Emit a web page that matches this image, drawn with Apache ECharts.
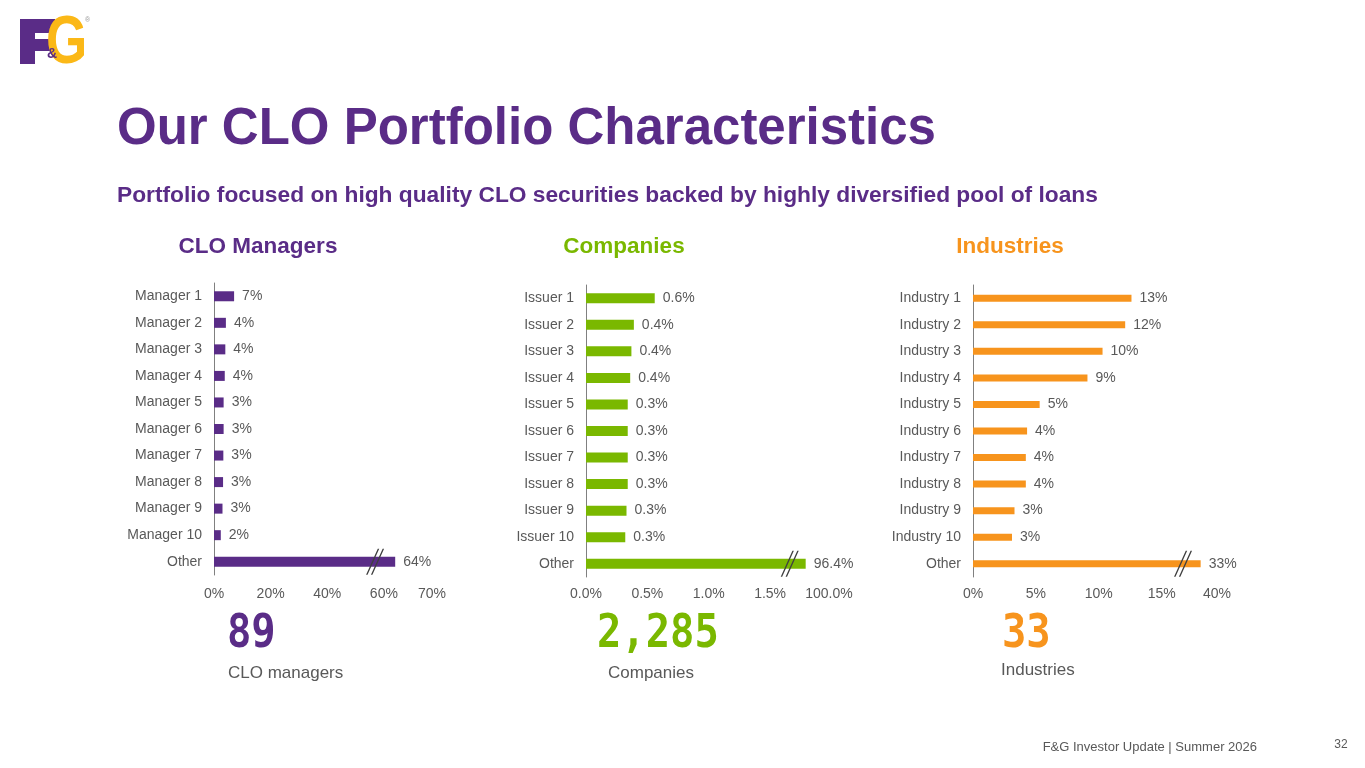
<!DOCTYPE html>
<html><head><meta charset="utf-8">
<script src="https://cdn.jsdelivr.net/npm/echarts@6/dist/echarts.min.js"></script>
<style>html,body{margin:0;padding:0;background:#fff;}#c{width:1365px;height:768px;}</style>
</head><body><div id="c"></div>
<script>
// ---------- data ----------
const managerNames = ['Manager 1','Manager 2','Manager 3','Manager 4','Manager 5','Manager 6','Manager 7','Manager 8','Manager 9','Manager 10','Other'];
const managerShares = [7.1, 4.2, 4.0, 3.8, 3.4, 3.4, 3.3, 3.2, 3.0, 2.4, 64];
const managerTickValues = [0, 20, 40, 60, 77];
const managerTickLabels = ['0%','20%','40%','60%','70%'];

const issuerNames = ['Issuer 1','Issuer 2','Issuer 3','Issuer 4','Issuer 5','Issuer 6','Issuer 7','Issuer 8','Issuer 9','Issuer 10','Other'];
const issuerShares = [0.56, 0.39, 0.37, 0.36, 0.34, 0.34, 0.34, 0.34, 0.33, 0.32, 96.4];
const issuerTickValues = [0, 0.5, 1.0, 1.5, 1.98];
const issuerTickLabels = ['0.0%','0.5%','1.0%','1.5%','100.0%'];

const industryNames = ['Industry 1','Industry 2','Industry 3','Industry 4','Industry 5','Industry 6','Industry 7','Industry 8','Industry 9','Industry 10','Other'];
const industryShares = [12.6, 12.1, 10.3, 9.1, 5.3, 4.3, 4.2, 4.2, 3.3, 3.1, 33];
const industryTickValues = [0, 5, 10, 15, 19.4];
const industryTickLabels = ['0%','5%','10%','15%','40%'];

// broken axis: where the "//" mark sits and how far the truncated "Other" bar is drawn (axis units)
const managerBreak = { mark: 56.9, drawnTo: 64 };
const issuerBreak = { mark: 1.66, drawnTo: 1.79 };
const industryBreak = { mark: 16.7, drawnTo: 18.1 };

const summaryNumbers = ['89', '2,285', '33'];
const summaryCaptions = ['CLO managers', 'Companies', 'Industries'];

// ---------- style ----------
const PURPLE = '#5A2C87', GREEN = '#7AB800', ORANGE = '#F7941D', GRAY = '#595959';
const FONT = 'Liberation Sans, Arial, sans-serif';

const chart = echarts.init(document.getElementById('c'), null, { renderer: 'canvas' });

const breakSymbol = 'path://M0 26 L1.5 26 L13.5 0 L12 0 Z M5 26 L6.5 26 L18.5 0 L17 0 Z';

function panel(idx, names, shares, tickVals, tickLabels, brk, color, grid, barW, fmt, tickMargin) {
  const last = names.length - 1;
  return {
    grid: Object.assign({ containLabel: false }, grid),
    xAxis: {
      gridIndex: idx, type: 'value', min: 0, max: tickVals[tickVals.length - 1],
      axisLine: { show: false }, axisTick: { show: false }, splitLine: { show: false },
      axisLabel: {
        customValues: tickVals, margin: tickMargin, color: GRAY, fontSize: 14, fontFamily: FONT,
        formatter: v => { const k = tickVals.findIndex(t => Math.abs(t - v) < 1e-6); return k >= 0 ? tickLabels[k] : ''; }
      }
    },
    yAxis: {
      gridIndex: idx, type: 'category', inverse: true, data: names,
      axisLine: { show: true, lineStyle: { color: '#808080', width: 1 } },
      axisTick: { show: false },
      axisLabel: { margin: 12, color: GRAY, fontSize: 14, fontFamily: FONT }
    },
    series: {
      type: 'bar', xAxisIndex: idx, yAxisIndex: idx, barWidth: barW,
      data: shares.map((v, i) => i === last ? brk.drawnTo : v),
      itemStyle: { color: color },
      label: { show: true, position: 'right', distance: 8, color: GRAY, fontSize: 14, fontFamily: FONT,
        formatter: p => fmt(shares[p.dataIndex]) },
      markPoint: {
        silent: true, symbol: breakSymbol, symbolSize: [18, 26], symbolKeepAspect: false,
        itemStyle: { color: '#404040' }, label: { show: false },
        data: [{ coord: [brk.mark, 'Other'] }]
      }
    }
  };
}

const pct0 = v => Math.round(v) + '%';
const pct1 = v => v.toFixed(1) + '%';

const panels = [
  panel(0, managerNames, managerShares, managerTickValues, managerTickLabels, managerBreak, PURPLE,
    { left: 214, top: 283, width: 218, height: 292 }, 10, pct0, 12),
  panel(1, issuerNames, issuerShares, issuerTickValues, issuerTickLabels, issuerBreak, GREEN,
    { left: 586, top: 285, width: 243, height: 292 }, 10, pct1, 10),
  panel(2, industryNames, industryShares, industryTickValues, industryTickLabels, industryBreak, ORANGE,
    { left: 973, top: 285, width: 244, height: 292 }, 7, pct0, 10)
];

function txt(x, y, text, size, color, opts) {
  return Object.assign({
    type: 'text', x: x, y: y, silent: true,
    style: Object.assign({ text: text, fontSize: size, fill: color, fontFamily: FONT,
      align: 'left', verticalAlign: 'middle' }, (opts && opts.style) || {})
  }, opts && opts.el || {});
}

const graphics = [
  // logo
  { type: 'rect', shape: { x: 20, y: 19, width: 15, height: 45 }, style: { fill: PURPLE } },
  { type: 'rect', shape: { x: 20, y: 19, width: 35, height: 14 }, style: { fill: PURPLE } },
  { type: 'rect', shape: { x: 20, y: 39, width: 30, height: 12 }, style: { fill: PURPLE } },
  txt(46, 44, 'G', 68, '#FBB817', { style: { fontWeight: 'bold' }, el: { scaleX: 0.78 } }),
  txt(47, 54, '&', 14, PURPLE, { style: { fontWeight: 'bold' } }),
  txt(85, 20, '®', 7, '#999999'),
  // titles
  txt(117, 130, 'Our CLO Portfolio Characteristics', 51, PURPLE, { style: { fontWeight: 'bold' } }),
  txt(117, 196, 'Portfolio focused on high quality CLO securities backed by highly diversified pool of loans', 22.75, PURPLE, { style: { fontWeight: 'bold' } }),
  txt(258, 247, 'CLO Managers', 22.5, PURPLE, { style: { fontWeight: 'bold', align: 'center' } }),
  txt(624, 247, 'Companies', 22.5, GREEN, { style: { fontWeight: 'bold', align: 'center' } }),
  txt(1010, 247, 'Industries', 22.5, ORANGE, { style: { fontWeight: 'bold', align: 'center' } }),
  // summary numbers
  txt(227, 635, summaryNumbers[0], 46, PURPLE, { style: { fontWeight: 'bold', fontFamily: 'DejaVu Sans Mono' }, el: { scaleX: 0.88 } }),
  txt(597, 635, summaryNumbers[1], 46, GREEN, { style: { fontWeight: 'bold', fontFamily: 'DejaVu Sans Mono' }, el: { scaleX: 0.88 } }),
  txt(1002, 635, summaryNumbers[2], 46, ORANGE, { style: { fontWeight: 'bold', fontFamily: 'DejaVu Sans Mono' }, el: { scaleX: 0.88 } }),
  txt(228, 673, summaryCaptions[0], 17, GRAY),
  txt(608, 673, summaryCaptions[1], 17, GRAY),
  txt(1001, 670, summaryCaptions[2], 17, GRAY),
  // footer
  txt(1257, 747, 'F&G Investor Update | Summer 2026', 13, GRAY, { style: { align: 'right' } }),
  txt(1341, 745, '32', 12, GRAY, { style: { align: 'center' } })
];

chart.setOption({
  animation: false,
  backgroundColor: '#ffffff',
  grid: panels.map(p => p.grid),
  xAxis: panels.map(p => p.xAxis),
  yAxis: panels.map(p => p.yAxis),
  series: panels.map(p => p.series),
  graphic: { elements: graphics }
});
</script>
</body></html>
